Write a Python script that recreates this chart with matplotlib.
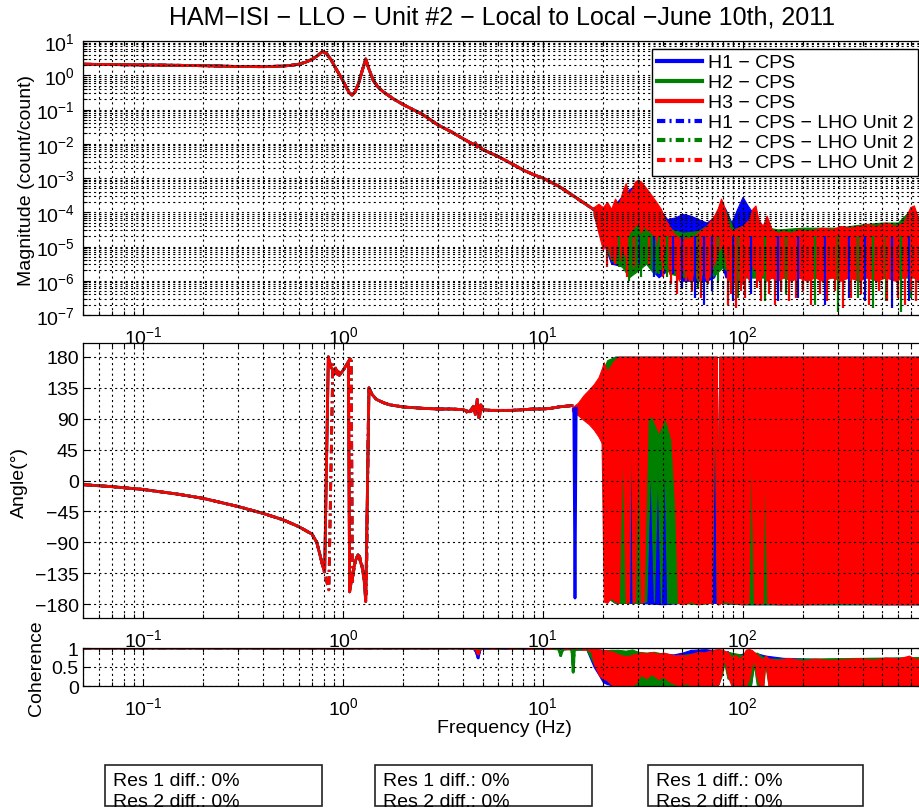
import numpy as np
import matplotlib
matplotlib.use("Agg")
import matplotlib.pyplot as plt
from matplotlib.ticker import (LogLocator, NullFormatter, FixedLocator, FixedFormatter,
                               LogFormatterMathtext)
from matplotlib.lines import Line2D
from matplotlib.patches import Rectangle

plt.rcParams['font.family'] = ['Liberation Sans', 'DejaVu Sans']
plt.rcParams['mathtext.fontset'] = 'custom'
plt.rcParams['mathtext.rm'] = 'Liberation Sans'
plt.rcParams['mathtext.it'] = 'Liberation Sans:italic'
plt.rcParams['mathtext.bf'] = 'Liberation Sans:bold'
plt.rcParams['mathtext.sf'] = 'Liberation Sans'
plt.rcParams['lines.scale_dashes'] = False
plt.rcParams['axes.unicode_minus'] = True

# ------------------------------------------------------------------ data
TITLE = "HAM\u2212ISI \u2212 LLO \u2212 Unit #2 \u2212 Local to Local \u2212June 10th, 2011"
series_labels = ["H1 \u2212 CPS", "H2 \u2212 CPS", "H3 \u2212 CPS",
                 "H1 \u2212 CPS \u2212 LHO Unit 2", "H2 \u2212 CPS \u2212 LHO Unit 2",
                 "H3 \u2212 CPS \u2212 LHO Unit 2"]
series_colors = ['#0000ff', '#008000', '#ff0000']
res_lines = ["Res 1 diff.: 0%", "Res 2 diff.: 0%"]

freq_range = [0.05, 800]
freq_ticks = [0.1, 1, 10, 100]
mag_range = [1e-7, 10]
mag_ticks = [1e-7, 1e-6, 1e-5, 1e-4, 1e-3, 1e-2, 1e-1, 1, 10]
phase_range = [-200, 200]
phase_ticks = [-180, -135, -90, -45, 0, 45, 90, 135, 180]
coh_ticks = [0, 0.5, 1]
coh_ticklabels = ["0", "0.5", "1"]

# smooth (coherent) part of the magnitude, shared by all six traces
mag_f = [0.05, 0.07, 0.1, 0.15, 0.2, 0.3, 0.4, 0.5, 0.55, 0.6, 0.65, 0.7, 0.75, 0.79,
         0.83, 0.87, 0.92, 0.97, 1.02, 1.07, 1.11, 1.15, 1.2, 1.25, 1.3, 1.35, 1.42,
         1.5, 1.6, 1.8, 2.0, 2.5, 3.0, 3.5, 4.0, 4.5, 4.6, 4.7, 4.8, 5.0, 6.0, 7.0,
         8.0, 9.0, 10, 12, 14, 16, 18]
mag_vals = [2.1, 2.05, 2.0, 1.95, 1.9, 1.8, 1.78, 1.85, 1.95, 2.1, 2.4, 2.9, 3.8, 5.0,
            4.2, 2.9, 1.6, 0.95, 0.55, 0.32, 0.26, 0.33, 0.6, 1.4, 3.0, 1.5, 0.7,
            0.45, 0.32, 0.2, 0.14, 0.072, 0.035, 0.022, 0.014, 0.0095, 0.0105, 0.008,
            0.0088, 0.0068, 0.0042, 0.0026, 0.0017, 0.00125, 0.001, 0.00058, 0.00032,
            0.00019, 0.00012]

# noisy part of the magnitude: envelopes (log10 of magnitude)
mn_red_f = [18, 19, 20, 21, 22, 23, 24, 25, 26, 27, 28, 29, 30, 31, 32, 33, 35, 37, 39, 41,
            43, 45, 48, 51, 54, 57, 60, 63, 66, 69, 72, 75, 78, 80, 83, 86, 89, 92, 96, 100,
            104, 108, 112, 116, 120, 126, 132, 140, 150, 160, 175, 190, 210, 230, 250, 280,
            310, 340, 380, 420, 470, 520, 580, 640, 690, 720, 760, 800]
mn_red_hi = [-3.85, -3.75, -3.85, -3.7, -3.9, -3.6, -3.8, -3.4, -3.15, -3.5,
             -3.3, -3.1, -3.05, -3.1, -3.2, -3.3, -3.5, -3.7, -3.9, -4.2,
             -4.4, -4.6, -4.75, -4.8, -4.75, -4.7, -4.6, -4.5, -4.4, -4.25,
             -4.1, -3.9, -3.6, -3.75, -4.1, -4.45, -4.55, -4.5, -4.45, -4.4,
             -4.3, -4.2, -3.9, -3.8, -4.2, -4.4, -4.1, -4.5, -4.6, -4.55,
             -4.6, -4.5, -4.55, -4.5, -4.45, -4.5, -4.4, -4.45, -4.4, -4.35,
             -4.4, -4.3, -4.4, -4.3, -3.85, -3.8, -4.2, -4.3]
mn_red_lo = [-4.05, -4.6, -5.1, -4.8, -5.4, -5.0, -5.5, -5.1, -5.3, -4.6,
             -4.5, -4.4, -4.3, -4.6, -4.4, -4.5, -4.6, -4.8, -5.4, -5.0,
             -5.8, -5.5, -6.0, -5.6, -6.0, -5.8, -6.0, -5.7, -6.0, -5.8,
             -5.5, -5.2, -5.0, -4.9, -5.6, -6.0, -5.9, -6.1, -6.0, -6.1,
             -5.8, -6.0, -5.5, -5.7, -6.0, -5.8, -6.0, -5.9, -6.0, -5.9,
             -6.0, -5.9, -6.0, -5.9, -6.0, -5.9, -6.0, -5.9, -6.0, -5.9,
             -6.0, -5.9, -6.0, -5.9, -5.8, -5.9, -6.0, -5.9]
mn_grn_f = [18, 22, 25, 27, 30, 33, 36, 40, 44, 50, 60, 70, 80, 90, 100, 120, 150, 200,
            300, 400, 500, 600, 700, 800]
mn_grn_hi = [-3.85, -4.0, -3.6, -3.5, -3.4, -3.6, -3.9, -4.2, -4.5, -4.6, -4.55, -4.3,
             -3.8, -4.5, -4.4, -4.4, -4.5, -4.45, -4.45, -4.35, -4.3, -4.3, -3.9, -4.3]
mn_grn_lo = [-4.1, -5.4, -5.6, -5.9, -5.7, -5.5, -5.8, -5.6, -5.8, -5.9, -5.8, -5.9,
             -5.6, -5.9, -5.9, -5.9, -5.9, -5.9, -5.9, -5.9, -5.9, -5.9, -5.9, -5.9]
mn_blu_f = [18, 22, 26, 30, 34, 38, 42, 46, 50, 55, 60, 66, 72, 78, 82, 88, 94, 100, 106,
            112, 120, 140, 200, 300, 400, 500, 600, 700, 800]
mn_blu_hi = [-3.85, -3.9, -3.4, -3.15, -3.6, -3.9, -4.2, -4.15, -4.05, -4.1,
             -4.2, -4.3, -4.15, -3.7, -3.9, -4.3, -3.9, -3.55, -3.8, -4.0,
             -4.3, -4.55, -4.6, -4.5, -4.5, -4.45, -4.4, -3.9, -4.3]
mn_blu_lo = [-4.1, -5.5, -5.6, -5.2, -5.6, -5.9, -5.7, -5.8, -6.0, -6.0,
             -6.0, -6.0, -5.9, -5.4, -5.9, -5.9, -5.9, -5.9, -5.9, -5.9,
             -5.9, -5.9, -5.9, -5.9, -5.9, -5.9, -5.9, -5.9, -5.9]

# downward noise spikes of the magnitude (log10 of the spike minimum)
ms_top = -4.7
ms_red_f = [21, 23, 26.5, 28.5, 34, 40, 44, 47, 52, 56, 62, 67, 85, 88, 93, 98, 103, 118,
            124, 135, 145, 155, 170, 185, 200, 220, 245, 265, 290, 320, 350, 390, 430, 480,
            530, 600, 650, 700, 740, 780]
ms_red_lo = [-5.6, -5.5, -5.9, -5.6, -5.5, -5.9, -6.1, -6.4, -6.0, -6.3,
             -6.5, -6.1, -6.7, -6.4, -6.8, -6.3, -6.5, -6.2, -6.6, -6.4,
             -6.7, -6.3, -6.6, -6.5, -6.3, -6.7, -6.4, -6.6, -6.3, -6.8,
             -6.5, -6.4, -6.7, -6.3, -6.6, -6.5, -6.7, -6.3, -6.6, -6.4]
ms_grn_f = [24, 27, 29, 31, 35, 38, 42, 60, 75, 95, 130, 165, 230, 300, 380, 450, 520, 620,
            700]
ms_grn_lo = [-5.6, -6.0, -5.7, -5.9, -5.6, -5.8, -5.9, -6.2, -6.0, -6.5, -6.6, -6.4, -6.7,
             -6.9, -6.5, -6.8, -6.6, -6.9, -6.5]
ms_blu_f = [23, 30.5, 36, 45, 50, 58, 64, 70, 90, 110, 150, 190, 260, 340, 410, 560, 680]
ms_blu_lo = [-5.3, -5.5, -5.9, -5.8, -6.2, -6.5, -6.7, -6.3, -6.6, -6.4, -6.6, -6.5, -6.7,
             -6.5, -6.6, -6.8, -6.6]

# smooth part of the phase (deg)
ph_llo_f = [0.05, 0.07, 0.1, 0.15, 0.2, 0.3, 0.4, 0.5, 0.6, 0.7,
            0.74, 0.77, 0.79, 0.81, 0.845, 0.87, 0.91, 0.96, 1.0, 1.04,
            1.065, 1.08, 1.11, 1.15, 1.19, 1.23, 1.27, 1.30, 1.35, 1.4,
            1.47, 1.6, 1.72, 2.0, 2.5, 3.0, 3.5, 4.0, 4.3, 4.5,
            4.6, 4.7, 4.8, 4.9, 5.0, 5.5, 6.0, 7.0, 8.0, 9.0,
            10, 11, 12, 13, 14]
ph_llo = [-6, -9, -13, -20, -26, -38, -48, -57, -67, -78,
          -90, -110, -123, -133, 180, 165, 157, 153, 160, 168,
          170, -162, -140, -118, -108, -120, -135, -176, 135, 125,
          118, 113, 110, 107, 105, 104, 104, 103, 100, 108,
          96, 118, 92, 110, 103, 102, 102, 102, 103, 104,
          104, 105, 107, 108, 109]
ph_lho_f = [0.05, 0.07, 0.1, 0.15, 0.2, 0.3, 0.4, 0.5, 0.6, 0.7,
            0.74, 0.77, 0.79, 0.81, 0.85, 0.89, 0.93, 0.97, 1.02, 1.06,
            1.10, 1.115, 1.13, 1.17, 1.21, 1.25, 1.28, 1.31, 1.345, 1.4,
            1.47, 1.6, 1.72, 2.0, 2.5, 3.0, 3.5, 4.0, 4.3, 4.5,
            4.6, 4.7, 4.8, 4.9, 5.0, 5.5, 6.0, 7.0, 8.0, 9.0,
            10, 11, 12, 13, 14]
ph_lho = [-6, -9, -13, -20, -26, -38, -48, -57, -67, -78,
          -90, -110, -123, -135, -159, 170, 160, 156, 163, 172,
          180, -150, -132, -112, -110, -125, -150, -165, 132, 125,
          118, 113, 110, 107, 105, 104, 104, 103, 97, 106,
          100, 112, 88, 106, 103, 102, 102, 102, 103, 104,
          104, 105, 107, 108, 109]
ph_spike_f = [14.3, 14.5, 14.7]
ph_spike = [104, -171, 105]

# noisy part of the phase: envelopes (deg)
pn_red_f = [14, 15, 16, 17, 18, 19, 19.7, 20.2, 21, 22,
            23, 24, 25, 26, 27, 27.6, 28.2, 29, 30, 31,
            32, 33.5, 35, 38, 41, 44, 46, 47.5, 50, 55,
            60, 65, 70, 72.5, 74.3, 75.2, 76.5, 80, 90, 100,
            107, 110, 114, 120, 126, 129, 133, 150, 200, 300,
            500, 800]
pn_red_hi = [106, 113, 124, 132, 140, 150, 162, 172, 158, 168,
             176, 180, 180, 180, 180, 180, 180, 180, 180, 180,
             180, 180, 180, 180, 180, 180, 180, 180, 180, 180,
             180, 180, 180, 180, 180, -80, 180, 180, 180, 180,
             180, 180, 180, 180, 180, 180, 180, 180, 180, 180,
             180, 180]
pn_red_lo = [101, 95, 88, 82, 74, 64, 55, -176, -178, -170,
             -176, -178, 60, -178, -176, 120, -178, -176, 80, -178,
             -176, 88, 95, 70, 92, 60, -40, -178, -180, -176,
             -180, -178, -178, 140, -178, -180, -180, -176, -178, -180,
             -178, 60, -178, -180, -178, 40, -178, -180, -180, -178,
             -180, -180]
pn_grn_f = [17, 18, 19, 20, 21, 23, 25, 27, 27.6, 28.2, 30, 33, 34.5, 36, 37.5, 39, 40.5,
            42, 45, 50, 60, 70, 72.5, 74.3, 75.2, 76.5, 100, 200, 400, 800]
pn_grn_hi = [125, 135, 145, 160, 175, 180, 180, 180, 180, 180, 180, 180, 180, 180, 180, 180,
             180, 180, 180, 180, 180, 180, 180, 180, -80, 180, 180, 180, 180, 180]
pn_grn_lo = [92, 80, 70, 50, -170, -178, -178, -178, 120, -178, -178, -176, 30, -176, 20,
             -178, 40, -178, -178, -178, -180, -178, 140, -178, -180, -178, -180, -180,
             -180, -180]
pn_blu_f = [18, 19, 20, 21, 23, 30, 40, 50, 60, 70, 74.3, 75.2, 76.5, 100, 300, 800]
pn_blu_hi = [130, 140, 155, 172, 180, 180, 180, 180, 180, 180, 180, -80, 180, 180, 180, 180]
pn_blu_lo = [85, 72, 55, -170, -178, -178, -180, -178, -178, -178, -178, -180, -178, -180,
             -180, -180]

# smooth part of the coherence
coh_f = [0.05, 1.0, 4.5, 4.65, 4.75, 4.85, 5.0, 10.0, 12.0, 12.3, 12.6, 13.5, 14.0, 14.2,
         14.4, 15.0, 16.5]
coh_blue = [1, 1, 1, 0.9, 0.74, 0.95, 1, 0.99, 0.99, 0.98, 0.99, 0.99, 0.98, 0.97, 0.98,
            0.98, 0.98]
coh_green = [1, 1, 1, 1, 0.98, 1, 1, 0.99, 0.98, 0.8, 0.97, 0.98, 0.95, 0.36, 0.95, 0.97,
             0.97]
coh_red = [1, 1, 1, 0.95, 0.84, 0.97, 1, 0.99, 0.99, 0.99, 0.98, 0.99, 0.99, 0.98, 0.99,
           0.98, 0.97]

# noisy part of the coherence: envelopes
cn_red_f = [16.5, 17.5, 18.1, 18.7, 19.2, 20, 21, 22.4, 23.5, 25,
            26.5, 28, 29.5, 31, 33, 35, 38, 40, 43, 46,
            49, 52, 56, 60, 64, 68, 72, 76, 79, 81,
            84, 88, 92, 96, 100, 104, 108, 111, 114, 117,
            122, 127, 130, 135, 150, 170, 200, 230, 270, 320,
            380, 450, 520, 600, 680, 740, 800]
cn_red_hi = [1.0, 0.99, 0.98, 0.97, 0.96, 0.95, 0.93, 0.9, 0.85, 0.8,
             0.78, 0.82, 0.85, 0.88, 0.86, 0.89, 0.85, 0.88, 0.84, 0.8,
             0.82, 0.8, 0.85, 0.9, 0.88, 0.92, 0.95, 0.97, 0.96, 0.93,
             0.9, 0.75, 0.82, 0.72, 0.8, 0.96, 0.97, 0.95, 0.9, 0.85,
             0.75, 0.7, 0.8, 0.72, 0.68, 0.74, 0.66, 0.72, 0.68, 0.7,
             0.73, 0.69, 0.75, 0.72, 0.8, 0.7, 0.75]
cn_red_lo = [0.98, 0.9, 0.55, 0.4, 0.27, 0.2, 0.15, 0.0, 0.0, 0.0,
             0.0, 0.0, 0.1, 0.3, 0.2, 0.32, 0.18, 0.25, 0.12, 0.05,
             0.0, 0.08, 0.0, 0.0, 0.0, 0.0, 0.0, 0.05, 0.4, 0.76,
             0.3, 0.0, 0.0, 0.0, 0.0, 0.0, 0.2, 0.5, 0.7, 0.3,
             0.0, 0.0, 0.7, 0.0, 0.0, 0.0, 0.0, 0.0, 0.0, 0.0,
             0.0, 0.0, 0.0, 0.0, 0.0, 0.0, 0.0]
cn_grn_f = [16.5, 18, 20, 22, 24, 26, 28, 30, 33, 36, 40, 44, 48, 55, 65, 75, 79, 81, 84,
            100, 110, 114, 118, 127, 130, 135, 200, 400, 800]
cn_grn_hi = [0.99, 0.97, 0.94, 0.95, 0.95, 0.93, 0.96, 0.9, 0.88, 0.9, 0.85, 0.82, 0.8,
             0.85, 0.88, 0.95, 0.9, 0.85, 0.9, 0.82, 0.9, 0.85, 0.88, 0.75, 0.8, 0.72,
             0.72, 0.74, 0.76]
cn_grn_lo = [0.97, 0.6, 0.25, 0.05, 0.0, 0.0, 0.0, 0.0, 0.0, 0.0, 0.0, 0.0, 0.0, 0.0,
             0.0, 0.0, 0.3, 0.6, 0.2, 0.0, 0.0, 0.55, 0.0, 0.0, 0.55, 0.0, 0.0, 0.0, 0.0]
cn_blu_f = [16.5, 18, 19, 20, 21, 23, 26, 30, 35, 40, 45, 50, 55, 60, 65, 70, 75, 79, 81,
            84, 90, 100, 110, 114, 120, 130, 160, 250, 400, 800]
cn_blu_hi = [0.99, 0.97, 0.96, 0.95, 0.93, 0.88, 0.8, 0.85, 0.87, 0.86, 0.83, 0.88, 0.95,
             0.96, 0.97, 0.95, 0.96, 0.9, 0.85, 0.92, 0.8, 0.85, 0.9, 0.88, 0.85, 0.8,
             0.74, 0.71, 0.73, 0.75]
cn_blu_lo = [0.97, 0.5, 0.3, 0.1, 0.05, 0.0, 0.0, 0.0, 0.0, 0.0, 0.0, 0.0, 0.0, 0.0, 0.0,
             0.0, 0.0, 0.4, 0.7, 0.3, 0.0, 0.0, 0.0, 0.6, 0.0, 0.6, 0.0, 0.0, 0.0, 0.0]

# ------------------------------------------------------------------ figure
W, H = 919, 812
fig = plt.figure(figsize=(W / 100, H / 100), dpi=100)


def px_axes(l, t, r, b):
    return fig.add_axes([l / W, 1 - b / H, (r - l) / W, (b - t) / H])


ax1 = px_axes(83, 42, 923, 316)
ax2 = px_axes(83, 344, 923, 619)
ax3 = px_axes(83, 649, 923, 687)

LW = 2.0
DASHDOT = (0, (6, 3, 1.5, 3))
GRID_LS = (0, (1.5, 2.3))
GRID_LW = 0.8
blue, green, red = series_colors


def band(ax, f, lo, hi, color, log=False):
    f = np.asarray(f, float)
    lo = np.asarray(lo, float)
    hi = np.asarray(hi, float)
    if log:
        lo, hi = np.power(10.0, lo), np.power(10.0, hi)
    ax.fill_between(f, lo, hi, facecolor=color, edgecolor=color, linewidth=0.8)


def spikes(ax, f, lo, top, color):
    ax.vlines(f, np.power(10.0, np.asarray(lo, float)), 10.0 ** top, colors=color,
              linewidth=1.6)


# ---- magnitude
for c in series_colors:
    ax1.plot(mag_f, mag_vals, color=c, lw=LW, ls='-')
for c in series_colors:
    ax1.plot(mag_f, mag_vals, color=c, lw=LW, ls=DASHDOT)
band(ax1, mn_blu_f, mn_blu_lo, mn_blu_hi, blue, log=True)
spikes(ax1, ms_blu_f, ms_blu_lo, ms_top, blue)
band(ax1, mn_grn_f, mn_grn_lo, mn_grn_hi, green, log=True)
spikes(ax1, ms_grn_f, ms_grn_lo, ms_top, green)
band(ax1, mn_red_f, mn_red_lo, mn_red_hi, red, log=True)
spikes(ax1, ms_red_f, ms_red_lo, ms_top, red)

# ---- phase
ax2.plot(ph_spike_f, ph_spike, color=blue, lw=LW, ls='-')
for c in series_colors:
    ax2.plot(ph_llo_f, ph_llo, color=c, lw=LW, ls='-')
for c in series_colors:
    ax2.plot(ph_lho_f, ph_lho, color=c, lw=LW, ls=DASHDOT)
band(ax2, pn_blu_f, pn_blu_lo, pn_blu_hi, blue)
band(ax2, pn_grn_f, pn_grn_lo, pn_grn_hi, green)
band(ax2, pn_red_f, pn_red_lo, pn_red_hi, red)

# ---- coherence
for c, v in zip(series_colors, [coh_blue, coh_green, coh_red]):
    ax3.plot(coh_f, v, color=c, lw=LW, ls='-')
for c, v in zip(series_colors, [coh_blue, coh_green, coh_red]):
    ax3.plot(coh_f, v, color=c, lw=LW, ls=DASHDOT)
band(ax3, cn_blu_f, cn_blu_lo, cn_blu_hi, blue)
band(ax3, cn_grn_f, cn_grn_lo, cn_grn_hi, green)
band(ax3, cn_red_f, cn_red_lo, cn_red_hi, red)

# ---- axes styling
for ax in (ax1, ax2, ax3):
    ax.set_xscale('log')
    ax.set_xlim(*freq_range)
    ax.xaxis.set_major_locator(FixedLocator(freq_ticks))
    ax.xaxis.set_major_formatter(LogFormatterMathtext())
    ax.xaxis.set_minor_locator(LogLocator(base=10, subs=np.arange(2, 10), numticks=200))
    ax.xaxis.set_minor_formatter(NullFormatter())
    ax.tick_params(which='both', direction='in', top=True, right=True, labelsize=14,
                   colors='k')
    ax.tick_params(which='major', length=5, width=0.8)
    ax.tick_params(which='minor', length=3, width=0.8)
    ax.tick_params(axis='x', pad=7)
    ax.grid(True, which='major', ls=GRID_LS, lw=GRID_LW, color='k')
    ax.grid(True, which='minor', axis='x', ls=GRID_LS, lw=GRID_LW, color='k')
    for s in ax.spines.values():
        s.set_linewidth(0.9)
    ax.set_axisbelow(False)

ax1.set_yscale('log')
ax1.set_ylim(*mag_range)
ax1.yaxis.set_major_locator(FixedLocator(mag_ticks))
ax1.yaxis.set_major_formatter(LogFormatterMathtext())
ax1.yaxis.set_minor_locator(LogLocator(base=10, subs=np.arange(2, 10), numticks=200))
ax1.yaxis.set_minor_formatter(NullFormatter())
ax1.grid(True, which='minor', axis='y', ls=GRID_LS, lw=GRID_LW, color='k')
ax1.tick_params(axis='y', pad=6)

ax2.set_ylim(*phase_range)
ax2.yaxis.set_major_locator(FixedLocator(phase_ticks))
ax2.tick_params(axis='y', pad=3)

ax3.set_ylim(0, 1)
ax3.yaxis.set_major_locator(FixedLocator(coh_ticks))
ax3.yaxis.set_major_formatter(FixedFormatter(coh_ticklabels))
ax3.tick_params(axis='y', pad=3)

# ---- legend
handles = [Line2D([], [], color=c, lw=3, ls='-') for c in series_colors] + \
          [Line2D([], [], color=c, lw=3, ls=DASHDOT) for c in series_colors]
leg = ax1.legend(handles, series_labels, loc='upper right',
                 bbox_to_anchor=(918 / W, 1 - 50 / H), bbox_transform=fig.transFigure,
                 fontsize=14, frameon=True, fancybox=False, edgecolor='k', framealpha=1,
                 borderpad=0.25, labelspacing=0.12, handlelength=2.3, handletextpad=0.3,
                 borderaxespad=0)
leg.get_frame().set_linewidth(1.0)

# ---- texts
fig.text(502 / W, 1 - 18 / H, TITLE, ha='center', va='center', fontsize=18)
fig.text(27 / W, 1 - 180 / H, "Magnitude (count/count)", rotation=90, ha='center',
         va='center', fontsize=14)
fig.text(19 / W, 1 - 482 / H, "Angle(\u00b0)", rotation=90, ha='center', va='center',
         fontsize=14)
fig.text(36 / W, 1 - 668 / H, "Coherence", rotation=90, ha='center', va='center',
         fontsize=14)
fig.text(504 / W, 1 - 729 / H, "Frequency (Hz)", ha='center', va='center', fontsize=14)

for x0, x1 in [(105, 322), (375, 592), (648, 863)]:
    fig.add_artist(Rectangle((x0 / W, 1 - 807 / H), (x1 - x0) / W, 41 / H,
                             transform=fig.transFigure, fill=False, ec='#222222', lw=1.2))
    fig.text((x0 + 8) / W, 1 - 782 / H, res_lines[0], ha='left', va='center', fontsize=14)
    fig.text((x0 + 8) / W, 1 - 803 / H, res_lines[1], ha='left', va='center', fontsize=14)

fig.savefig("out.png", dpi=100)
